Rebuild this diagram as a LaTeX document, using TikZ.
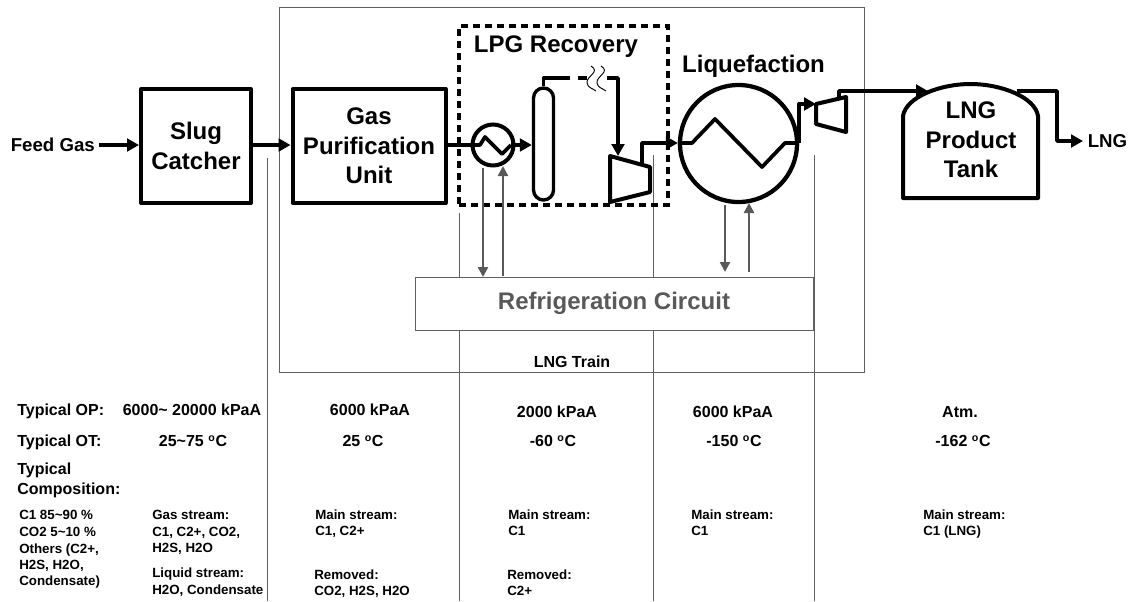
\documentclass[tikz,border=0pt]{standalone}
\usepackage{fontspec}
\setmainfont{Liberation Sans}
\usetikzlibrary{arrows.meta}
\definecolor{thinline}{HTML}{606060}
\definecolor{refgray}{HTML}{595959}
\tikzset{
  x=0.75pt,y=-0.75pt,
  pipe/.style={line width=2.8pt,line join=round,draw=black},
  flow/.style={pipe,-{Triangle[length=9pt,width=9.5pt]}},
  equip/.style={draw=black,line width=3pt,line join=round,fill=white},
  unitbox/.style={equip,inner sep=0pt,align=center,font=\fontsize{18pt}{22pt}\bfseries},
  thin rule/.style={draw=thinline,line width=0.7pt},
  refflow/.style={draw=refgray,line width=1.8pt,-{Triangle[length=7.5pt,width=7.5pt]}},
  big/.style={inner sep=0pt,text height=13pt,text depth=0pt,font=\fontsize{18pt}{22pt}\bfseries},
  mid/.style={inner sep=0pt,text height=8.7pt,text depth=0pt,font=\fontsize{12pt}{14pt}\bfseries},
  feed/.style={inner sep=0pt,text height=10pt,text depth=0pt,font=\fontsize{14pt}{16pt}\bfseries},
  small/.style={inner sep=0pt,text height=7.2pt,text depth=0pt,anchor=west,font=\fontsize{10pt}{12pt}\bfseries},
}
\begin{document}
\begin{tikzpicture}
\useasboundingbox (0,0) rectangle (1131,601);
% frame and column rules
\node[thin rule,draw,minimum width=585*0.75pt,minimum height=365*0.75pt,inner sep=0pt] (train) at (571.5,189.5) {};
\coordinate (r1a) at (267,158); \coordinate (r1b) at (267,601);
\coordinate (r2a) at (459,213); \coordinate (r2b) at (459,601);
\coordinate (r3a) at (653,155); \coordinate (r3b) at (653,601);
\coordinate (r4a) at (814.5,155); \coordinate (r4b) at (814.5,601);
\draw[thin rule] (r1a) -- (r1b);
\draw[thin rule] (r2a) -- (r2b);
\draw[thin rule] (r3a) -- (r3b);
\draw[thin rule] (r4a) -- (r4b);
% refrigeration
\node[thin rule,draw,fill=white,minimum width=398*0.75pt,minimum height=53*0.75pt,inner sep=0pt,text=refgray,font=\fontsize{18pt}{22pt}\bfseries] (ref) at (614,303.5) {Refrigeration Circuit};
\node[mid] (traintxt) at (572,362) {LNG Train};
% dashed LPG box
\node[draw=black,line width=2.5pt,dash pattern=on 5.5pt off 3.5pt,minimum width=209*0.75pt,minimum height=179*0.75pt,inner sep=0pt] (lpg) at (563.5,115.5) {};
\node[big] (lpgtxt) at (556,44) {LPG Recovery};
\node[big] (liqtxt) at (753.5,64) {Liquefaction};
% main boxes
\node[feed,anchor=west] (feedtxt) at (10.5,145) {Feed Gas};
\node[unitbox,minimum width=110*0.75pt,minimum height=114*0.75pt] (slug) at (196,146) {Slug\\Catcher};
\node[unitbox,minimum width=153*0.75pt,minimum height=114*0.75pt] (gpu) at (369,146) {Gas\\Purification\\Unit};
\draw[flow] (feedtxt.east) ++(4,0) coordinate (f0) -- (slug.west |- f0);
\draw[flow] (slug.east |- 0,145) -- (gpu.west |- 0,145);
% small heat exchanger
\node[draw=black,line width=3pt,circle,minimum size=41*0.75pt,inner sep=0pt] (hx) at (493,145) {};
\node[draw=black,line width=2.5pt,rounded corners=7.5pt,minimum width=20*0.75pt,minimum height=112*0.75pt,inner sep=0pt] (col) at (543.5,144) {};
\draw[pipe] (gpu.east |- 0,145) -- (480,145) -- (485,137) -- (502,154) -- (511,145);
\draw[flow] (511,145) -- (col.west |- 0,145);
% overhead line
\coordinate (o1) at (544,78); \coordinate (o2) at (570,78); \coordinate (o3) at (578,78); \coordinate (o4) at (587,78); \coordinate (o5) at (607,78); \coordinate (o6) at (618,78);
\draw[pipe] (col.north) -- (col.north |- o1) -- (o2);
\draw[pipe] (o3) -- (o4);
\draw[black,line width=0.7pt] (591,66) .. controls (601,72) and (586,76) .. (587,83) .. controls (588,88) and (592,88) .. (596,91);
\draw[black,line width=0.7pt] (601,66) .. controls (611,72) and (596,76) .. (597,83) .. controls (598,88) and (602,88) .. (606,91);
% compressor 1
\coordinate (c1a) at (610,156); \coordinate (c1b) at (650,167); \coordinate (c1c) at (650,192); \coordinate (c1d) at (610,202);
\draw[equip] (c1a) -- (c1b) -- (c1c) -- (c1d) -- cycle;
\draw[flow] (o5) -- (o6) -- (618,156);
% big heat exchanger
\node[draw=black,line width=3.2pt,circle,minimum size=117*0.75pt,inner sep=0pt] (lhx) at (738.5,143.5) {};
\draw[flow] (642,163) -- (642,143) -- (lhx.west |- 0,143);
\draw[pipe] (lhx.west |- 0,143) -- (692,143) -- (715,119) -- (762,167) -- (785,143) -- (lhx.east |- 0,143);
% compressor 2
\coordinate (c2a) at (816,104); \coordinate (c2b) at (846,97); \coordinate (c2c) at (846,132); \coordinate (c2d) at (816,124);
\draw[equip] (c2a) -- (c2b) -- (c2c) -- (c2d) -- cycle;
\draw[flow] (lhx.east |- 0,143) -- (lhx.east |- c2a) -- (c2a);
% tank
\coordinate (t1) at (903,198); \coordinate (t2) at (1038,198);
\coordinate (lngend) at (1083,141);
\draw[flow] (1017,91) -- (1057,91) -- (1057,141) -- (lngend);
\draw[equip] (t1) -- (903,116) .. controls (906,97) and (940,84) .. (970.5,84) .. controls (1001,84) and (1035,97) .. (1038,116) -- (t2) -- cycle;
\draw[flow] (839,97) -- (839,91) -- (928,91);
\node[inner sep=0pt,align=center,font=\fontsize{18pt}{22pt}\bfseries] (tank) at (971,140) {LNG\\Product\\Tank};
\node[feed,anchor=west] (lngtxt) at (1087.5,141) {LNG};
% refrigerant arrows
\draw[refflow] (483,168) -- (483,277);
\draw[refflow] (503,276) -- (503,166);
\draw[refflow] (725,205) -- (725,272);
\draw[refflow] (749,272) -- (749,203);
% table
\node[mid,anchor=west] (op) at (17,410) {Typical OP:};
\node[mid,anchor=west] (ot) at (17,441) {Typical OT:};
\node[mid,anchor=west] (comp1) at (17,469) {Typical};
\node[mid,anchor=west] (comp2) at (17,489) {Composition:};
\node[mid] (op1) at (192,410) {6000\char`\~\ 20000 kPaA};
\node[mid] (op2) at (370,410) {6000 kPaA};
\node[mid] (op3) at (557,412) {2000 kPaA};
\node[mid] (op4) at (733,412) {6000 kPaA};
\node[mid] (op5) at (960,412) {Atm.};
\node[mid] (ot1) at (193,441) {25\char`\~75 \textsuperscript{o}C};
\node[mid] (ot2) at (363,441) {25 \textsuperscript{o}C};
\node[mid] (ot3) at (553,441) {-60 \textsuperscript{o}C};
\node[mid] (ot4) at (734,441) {-150 \textsuperscript{o}C};
\node[mid] (ot5) at (963,441) {-162 \textsuperscript{o}C};
\node[small] (a1) at (19,515) {C1 85\char`\~90 \%};
\node[small] (a2) at (19,532) {CO2 5\char`\~10 \%};
\node[small] (a3) at (19,549) {Others (C2+,};
\node[small] (a4) at (19,565) {H2S, H2O,};
\node[small] (a5) at (19,581) {Condensate)};
\node[small] (b1) at (152,515) {Gas stream:};
\node[small] (b2) at (152,532) {C1, C2+, CO2,};
\node[small] (b3) at (152,548) {H2S, H2O};
\node[small] (b4) at (152,573) {Liquid stream:};
\node[small] (b5) at (152,590) {H2O, Condensate};
\node[small] (c1) at (315,515) {Main stream:};
\node[small] (c2) at (315,531) {C1, C2+};
\node[small] (c3) at (314,575) {Removed:};
\node[small] (c4) at (314,591) {CO2, H2S, H2O};
\node[small] (d1) at (508,515) {Main stream:};
\node[small] (d2) at (508,531) {C1};
\node[small] (d3) at (507,575) {Removed:};
\node[small] (d4) at (507,591) {C2+};
\node[small] (e1) at (691,515) {Main stream:};
\node[small] (e2) at (691,531) {C1};
\node[small] (f1) at (923,515) {Main stream:};
\node[small] (f2) at (923,531) {C1 (LNG)};
\end{tikzpicture}
\end{document}
